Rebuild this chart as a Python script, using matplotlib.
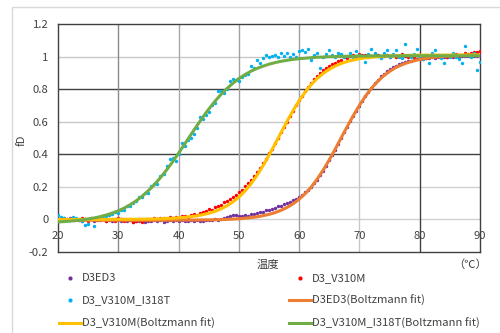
import matplotlib
matplotlib.use("Agg")
import matplotlib.pyplot as plt
from matplotlib.lines import Line2D
from matplotlib.patches import Rectangle
import numpy as np

plt.rcParams['font.family'] = ['Noto Sans CJK JP', 'DejaVu Sans']

# ---------------- data ----------------
temp_pts = [20 + 0.5 * i for i in range(141)]   # measured temperatures (0.5 C step)
temp_fit = list(range(20, 91))                  # fit curve temperatures

d3ed3 = [0.002, -0.006, 0.004, -0.002, 0.006, -0.004, 0.000, 0.005, -0.007, 0.003,
         -0.003, 0.004, -0.008, 0.000, -0.005, 0.003, -0.009, -0.002, -0.010, 0.001,
         -0.006, -0.012, -0.004, -0.010, -0.002, -0.013, -0.007, -0.011, -0.004, -0.014,
         -0.008, -0.012, -0.003, -0.010, -0.006, -0.013, -0.009, -0.004, -0.011, -0.006,
         -0.010, -0.003, -0.008, -0.012, -0.005, -0.009, -0.002, -0.007, -0.010, -0.004,
         -0.001, -0.006, 0.002, -0.003, 0.004, 0.008, 0.012, 0.022, 0.030, 0.026,
         0.018, 0.022, 0.028, 0.024, 0.032, 0.036, 0.040, 0.044, 0.048, 0.055,
         0.060, 0.066, 0.072, 0.080, 0.085, 0.092, 0.098, 0.108, 0.118, 0.128,
         0.140, 0.152, 0.168, 0.182, 0.200, 0.222, 0.245, 0.272, 0.300, 0.330,
         0.362, 0.395, 0.428, 0.462, 0.498, 0.535, 0.568, 0.602, 0.635, 0.668,
         0.698, 0.728, 0.756, 0.782, 0.808, 0.835, 0.858, 0.878, 0.895, 0.910,
         0.922, 0.934, 0.945, 0.952, 0.960, 0.966, 0.972, 0.975, 0.980, 0.984,
         0.988, 0.985, 0.992, 0.990, 0.995, 0.993, 0.998, 0.996, 1.000, 0.997,
         1.002, 0.999, 1.003, 1.000, 1.004, 1.001, 1.005, 1.002, 1.006, 1.003,
         1.008]

v310m = [0.005, -0.004, 0.008, 0.002, -0.006, 0.010, 0.004, -0.003, 0.007, 0.000,
         -0.008, 0.006, 0.003, -0.005, 0.009, 0.002, -0.010, 0.004, 0.000, -0.007,
         0.006, 0.001, -0.012, -0.005, 0.003, -0.014, -0.010, 0.002, -0.016, -0.006,
         0.004, -0.002, 0.008, 0.001, 0.006, 0.010, 0.003, 0.012, 0.008, 0.015,
         0.011, 0.018, 0.022, 0.017, 0.028, 0.032, 0.030, 0.040, 0.045, 0.052,
         0.062, 0.060, 0.075, 0.082, 0.090, 0.105, 0.112, 0.125, 0.140, 0.150,
         0.168, 0.180, 0.205, 0.222, 0.245, 0.268, 0.292, 0.318, 0.345, 0.372,
         0.405, 0.432, 0.468, 0.500, 0.535, 0.565, 0.600, 0.635, 0.668, 0.700,
         0.732, 0.760, 0.790, 0.815, 0.840, 0.862, 0.880, 0.900, 0.915, 0.930,
         0.945, 0.952, 0.962, 0.975, 0.982, 0.995, 0.992, 1.005, 1.010, 1.002,
         1.015, 1.008, 1.012, 1.000, 1.005, 1.018, 1.010, 0.998, 1.004, 1.012,
         1.000, 1.008, 0.996, 1.006, 1.014, 1.002, 0.995, 1.008, 1.000, 1.012,
         0.998, 1.006, 0.994, 1.004, 1.010, 0.998, 1.008, 1.002, 1.012, 1.000,
         1.010, 1.006, 1.015, 1.008, 1.012, 1.020, 1.018, 1.025, 1.030, 1.028,
         1.032]

v310m_i318t = [0.025, 0.015, 0.010, 0.005, -0.005, 0.012, 0.008, -0.002, -0.010, -0.032,
               -0.028, 0.000, -0.042, 0.005, 0.012, 0.020, 0.018, 0.030, 0.035, 0.045,
               0.040, 0.060, 0.058, 0.085, 0.080, 0.100, 0.115, 0.140, 0.135, 0.165,
               0.160, 0.205, 0.220, 0.215, 0.265, 0.280, 0.330, 0.370, 0.375, 0.360,
               0.400, 0.470, 0.450, 0.490, 0.500, 0.525, 0.560, 0.630, 0.615, 0.640,
               0.660, 0.700, 0.715, 0.790, 0.790, 0.775, 0.800, 0.850, 0.860, 0.855,
               0.850, 0.875, 0.885, 0.890, 0.945, 0.930, 0.980, 0.960, 0.990, 1.010,
               0.995, 1.005, 1.010, 1.000, 1.020, 1.005, 1.025, 1.000, 1.015, 0.995,
               1.035, 1.040, 1.030, 1.045, 0.980, 1.010, 1.025, 0.930, 1.000, 1.015,
               1.040, 1.010, 1.000, 1.020, 1.015, 0.995, 1.005, 1.020, 0.990, 1.035,
               1.010, 1.000, 0.965, 1.015, 1.045, 1.020, 1.005, 0.990, 1.025, 1.040,
               1.000, 1.015, 1.040, 1.000, 0.990, 1.075, 1.010, 0.995, 1.015, 1.045,
               1.000, 0.985, 1.010, 0.960, 1.020, 1.040, 1.005, 0.990, 0.960, 1.010,
               0.995, 1.025, 1.000, 0.985, 0.960, 1.065, 1.010, 1.000, 1.020, 0.915,
               0.965]

fit_d3ed3 = [-0.005, -0.005, -0.005, -0.005, -0.005, -0.005, -0.005, -0.005, -0.005, -0.005,
             -0.005, -0.005, -0.005, -0.005, -0.005, -0.005, -0.005, -0.005, -0.005, -0.005,
             -0.004, -0.004, -0.004, -0.004, -0.003, -0.003, -0.002, -0.001, 0.000, 0.002,
             0.004, 0.007, 0.011, 0.016, 0.023, 0.031, 0.042, 0.056, 0.074, 0.096,
             0.124, 0.158, 0.199, 0.248, 0.304, 0.366, 0.433, 0.503, 0.572, 0.639,
             0.701, 0.757, 0.805, 0.847, 0.881, 0.909, 0.932, 0.949, 0.963, 0.974,
             0.982, 0.989, 0.994, 0.998, 1.001, 1.003, 1.005, 1.006, 1.007, 1.008,
             1.008]

fit_v310m = [0.000, 0.000, 0.000, 0.000, 0.000, 0.000, 0.000, 0.000, 0.000, 0.000,
             0.001, 0.001, 0.001, 0.001, 0.002, 0.002, 0.003, 0.004, 0.006, 0.007,
             0.010, 0.013, 0.017, 0.022, 0.029, 0.038, 0.049, 0.064, 0.083, 0.107,
             0.137, 0.174, 0.218, 0.270, 0.329, 0.394, 0.463, 0.533, 0.603, 0.669,
             0.729, 0.782, 0.828, 0.866, 0.897, 0.922, 0.942, 0.958, 0.970, 0.979,
             0.987, 0.992, 0.996, 0.999, 1.002, 1.004, 1.005, 1.006, 1.007, 1.008,
             1.008, 1.009, 1.009, 1.009, 1.009, 1.009, 1.009, 1.010, 1.010, 1.010,
             1.010]

fit_v310m_i318t = [-0.016, -0.013, -0.010, -0.007, -0.003, 0.003, 0.009, 0.017, 0.027, 0.039,
                   0.053, 0.070, 0.091, 0.115, 0.144, 0.177, 0.214, 0.257, 0.303, 0.353,
                   0.407, 0.462, 0.518, 0.573, 0.627, 0.677, 0.724, 0.766, 0.803, 0.836,
                   0.865, 0.889, 0.910, 0.927, 0.941, 0.953, 0.963, 0.971, 0.977, 0.983,
                   0.987, 0.990, 0.993, 0.996, 0.997, 0.999, 1.000, 1.001, 1.002, 1.002,
                   1.003, 1.003, 1.004, 1.004, 1.004, 1.004, 1.004, 1.005, 1.005, 1.005,
                   1.005, 1.005, 1.005, 1.005, 1.005, 1.005, 1.005, 1.005, 1.005, 1.005,
                   1.005]

x_ticks = [20, 30, 40, 50, 60, 70, 80, 90]
y_ticks = [-0.2, 0, 0.2, 0.4, 0.6, 0.8, 1, 1.2]
y_tick_labels = ['-0.2', '0', '0.2', '0.4', '0.6', '0.8', '1', '1.2']

series_names = ['D3ED3', 'D3_V310M', 'D3_V310M_I318T',
                'D3ED3(Boltzmann fit)', 'D3_V310M(Boltzmann fit)',
                'D3_V310M_I318T(Boltzmann fit)']

# ---------------- figure ----------------
W, H = 500, 333
fig = plt.figure(figsize=(W / 100, H / 100), dpi=100)

def fx(px):
    return px / W

def fy(py):
    return 1 - py / H

FS = 8.1
text_color = '#404040'

# chart area border
fig.patches.append(Rectangle((fx(12), fy(345)), fx(600), 345 / H - 7 / H,
                             transform=fig.transFigure, fill=False,
                             edgecolor='#d9d9d9', linewidth=1.0))

ax = fig.add_axes([fx(58), fy(252), fx(480) - fx(58), fy(24) - fy(252)])
ax.set_xlim(20, 90)
ax.set_ylim(-0.2, 1.2)

# gridlines (mimic reference rendering)
hgrid = {0: '#d0d0d0', 0.2: '#d0d0d0', 0.4: '#404040', 0.6: '#c8c8c8',
         0.8: '#404040', 1.0: '#c8c8c8'}
for yv, c in hgrid.items():
    ax.axhline(yv, color=c, linewidth=1.0, zorder=0)
vgrid = {30: '#8a8a8a', 40: '#a8a8a8', 50: '#a0a0a0', 60: '#a0a0a0',
         70: '#c8c8c8', 80: '#404040'}
for xv, c in vgrid.items():
    ax.axvline(xv, color=c, linewidth=1.0, zorder=0)

for s in ax.spines.values():
    s.set_color('#404040')
    s.set_linewidth(1.0)

ax.set_xticks([])
ax.set_yticks(y_ticks)
ax.set_yticklabels(y_tick_labels, fontsize=FS, color=text_color)
ax.tick_params(axis='y', length=0, pad=7)

# x tick labels sit just below y=0 (axis crosses at 0)
for xv in x_ticks:
    ax.text(xv, -0.1, str(xv), ha='center', va='center', fontsize=FS,
            color=text_color, zorder=1)

colors = ['#7030A0', '#FF0000', '#00B0F0', '#ED7D31', '#FFC000', '#70AD47']

ax.scatter(temp_pts, d3ed3, s=6, color=colors[0], linewidths=0, zorder=3)
ax.scatter(temp_pts, v310m, s=6, color=colors[1], linewidths=0, zorder=3)
ax.scatter(temp_pts, v310m_i318t, s=6, color=colors[2], linewidths=0, zorder=3)
ax.plot(temp_fit, fit_d3ed3, color=colors[3], linewidth=2.2, zorder=4,
        solid_capstyle='round')
ax.plot(temp_fit, fit_v310m, color=colors[4], linewidth=2.2, zorder=4,
        solid_capstyle='round')
ax.plot(temp_fit, fit_v310m_i318t, color=colors[5], linewidth=2.2, zorder=4,
        solid_capstyle='round')

# axis titles
fig.text(fx(22), fy(140), 'fD', rotation=90, ha='center', va='center',
         fontsize=FS, color=text_color)
fig.text(fx(268), fy(265), '温度', ha='center', va='center', fontsize=FS,
         color=text_color)
fig.text(fx(470), fy(265), '（℃）', ha='center', va='center', fontsize=FS,
         color=text_color)

# legend (manual, 2 columns x 3 rows)
rows_y = [278, 300, 323]
left_marker_x, left_text_x = 70, 82
right_marker_x, right_text_x = 300, 312
entries = [
    (left_marker_x, left_text_x, rows_y[0], 'marker', colors[0], series_names[0]),
    (right_marker_x, right_text_x, rows_y[0], 'marker', colors[1], series_names[1]),
    (left_marker_x, left_text_x, rows_y[1], 'marker', colors[2], series_names[2]),
    (right_marker_x, right_text_x, rows_y[1], 'line', colors[3], series_names[3]),
    (left_marker_x, left_text_x, rows_y[2], 'line', colors[4], series_names[4]),
    (right_marker_x, right_text_x, rows_y[2], 'line', colors[5], series_names[5]),
]
for mx, tx, yy, kind, c, label in entries:
    if kind == 'marker':
        fig.add_artist(Line2D([fx(mx)], [fy(yy)], marker='o', markersize=3,
                              markerfacecolor=c, markeredgewidth=0,
                              linestyle='none', transform=fig.transFigure))
    else:
        fig.add_artist(Line2D([fx(mx - 11), fx(mx + 11)], [fy(yy), fy(yy)],
                              color=c, linewidth=2.2, transform=fig.transFigure))
    fig.text(fx(tx), fy(yy), label, ha='left', va='center', fontsize=FS,
             color=text_color)

fig.savefig('out.png', dpi=100)
